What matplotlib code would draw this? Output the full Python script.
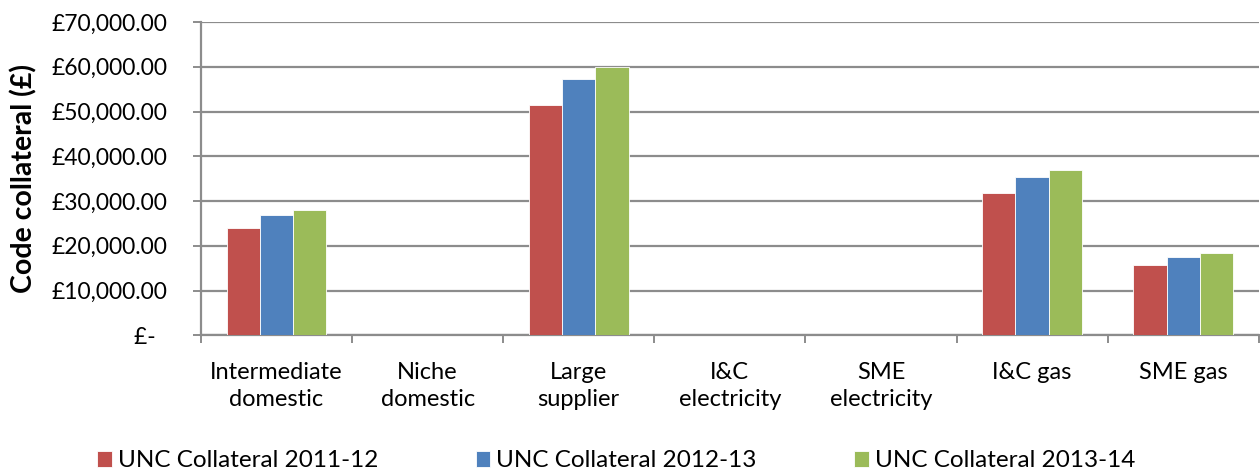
import numpy as np
import matplotlib.pyplot as plt
from matplotlib.ticker import FuncFormatter, FixedLocator

plt.rcParams['font.family'] = ['Lato', 'DejaVu Sans']

categories = ["Intermediate\ndomestic", "Niche\ndomestic", "Large\nsupplier",
              "I&C\nelectricity", "SME\nelectricity", "I&C gas", "SME gas"]
series_names = ["UNC Collateral 2011-12", "UNC Collateral 2012-13",
                "UNC Collateral 2013-14"]
col_2011 = [24000, 0, 51400, 0, 0, 31700, 15800]
col_2012 = [26800, 0, 57300, 0, 0, 35300, 17600]
col_2013 = [28000, 0, 60000, 0, 0, 37000, 18400]
colors = ["#C0504D", "#4F81BD", "#9BBB59"]
GRID = "#8c8c8c"

fig = plt.figure(figsize=(12.6, 4.72), dpi=100)
ax = fig.add_axes([0.1595, 0.2896, 0.8395, 0.6638])

x = np.arange(len(categories))
w = 0.22
for k, (vals, c, name) in enumerate(zip([col_2011, col_2012, col_2013],
                                        colors, series_names)):
    ax.bar(x + (k - 1) * w, vals, width=w, color=c, label=name,
           edgecolor="white", linewidth=0.6, zorder=3)

ax.set_xlim(-0.5, len(categories) - 0.5)
ax.set_ylim(0, 70000)
ax.set_yticks(np.arange(0, 70001, 10000))


def money(v, pos):
    if v == 0:
        return "£-  "
    return "£{:,.2f}".format(v)


ax.yaxis.set_major_formatter(FuncFormatter(money))
ax.yaxis.grid(True, color=GRID, linewidth=1.6, zorder=0)

# category labels sit between boundary ticks
ax.set_xticks(x)
ax.set_xticklabels(categories, fontsize=17, linespacing=1.4)
ax.tick_params(axis="x", length=0, pad=19)
ax.xaxis.set_minor_locator(FixedLocator(np.arange(-0.5, len(categories), 1.0)))
ax.tick_params(axis="x", which="minor", length=6, width=1.4, color=GRID,
               direction="out")
ax.tick_params(axis="y", length=6, width=1.4, color=GRID, labelsize=16.5,
               pad=18)

for side in ["top", "right"]:
    ax.spines[side].set_visible(False)
for side in ["left", "bottom"]:
    ax.spines[side].set_color(GRID)
    ax.spines[side].set_linewidth(1.6)

ax.set_ylabel("Code collateral (£)", fontsize=20.5, fontweight="bold")
ax.yaxis.set_label_coords(-0.155, 0.5)

fig.legend(loc="lower left", bbox_to_anchor=(0.06, -0.045), ncol=3,
           frameon=False, fontsize=17.5, handlelength=0.6, handleheight=0.6,
           handletextpad=0.25, columnspacing=4.0)

fig.savefig("out.png", dpi=100, facecolor="white")
